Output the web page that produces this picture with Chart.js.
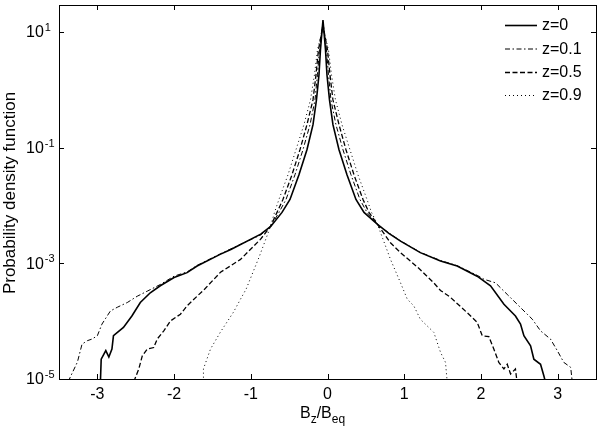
<!DOCTYPE html>
<html>
<head>
<meta charset="utf-8">
<script src="https://cdn.jsdelivr.net/npm/chart.js@4.4.1/dist/chart.umd.min.js"></script>
<style>
  html, body { margin: 0; padding: 0; background: #fff; }
  canvas { display: block; }
</style>
</head>
<body>
<canvas id="pdf" width="600" height="432"></canvas>
<script>
// Valores (B_z/B_eq, densidade de probabilidade)
const seriesLabels = ['z=0', 'z=0.1', 'z=0.5', 'z=0.9'];
const xTicks = [-3, -2, -1, 0, 1, 2, 3];
const yTicks = [1e-5, 1e-3, 1e-1, 1e1];
const yTickExp = ['-5', '-3', '-1', '1'];

// z=0
const xZ0 = [-2.96, -2.95, -2.89, -2.85, -2.81, -2.79, -2.66, -2.55, -2.44, -2.31, -2.18, -2.00, -1.83, -1.70,
  -1.40, -1.26, -0.87, -0.74, -0.593, -0.489, -0.372, -0.268, -0.189, -0.144, -0.111, -0.092, -0.059,
  -0.026, -0.007, 0.026, 0.071, 0.150, 0.254, 0.371, 0.476, 0.652, 0.80, 0.952, 1.21, 1.473, 1.69, 1.95,
  2.125, 2.30, 2.45, 2.516, 2.56, 2.647, 2.69, 2.777, 2.82, 2.84];
const yZ0 = [9e-6, 2.2e-5, 3.1e-5, 2.4e-5, 3.3e-5, 5.6e-5, 7.8e-5, 1.23e-4, 2.1e-4, 3.1e-4, 4.1e-4, 5.7e-4, 6.9e-4, 9.0e-4,
  1.43e-3, 1.74e-3, 3.2e-3, 4.35e-3, 7.6e-3, 1.27e-2, 3.4e-2, 9.2e-2, 0.25, 0.67, 1.82, 4.9, 16.1,
  4.9, 1.82, 0.67, 0.25, 9.2e-2, 3.4e-2, 1.27e-2, 7.6e-3, 4.7e-3, 3.3e-3, 2.42e-3, 1.53e-3, 1.1e-3, 9.0e-4, 6.0e-4,
  4.1e-4, 1.96e-4, 1.23e-4, 8.9e-5, 5.6e-5, 3.75e-5, 2.2e-5, 1.8e-5, 1.14e-5, 9e-6];

// z=0.1
const xZ01 = [-3.38, -3.35, -3.26, -3.20, -3.13, -3.07, -3.00, -2.94, -2.83, -2.74, -2.61, -2.48, -2.35, -2.18,
  -2.00, -1.83, -1.70, -1.40, -1.26, -0.87, -0.74, -0.632, -0.541, -0.424, -0.320, -0.228, -0.163, -0.131, -0.105,
  -0.059, -0.013, 0.013, 0.045, 0.110, 0.202, 0.306, 0.423, 0.515, 0.652, 0.80, 0.952, 1.21, 1.473, 1.69, 1.952,
  2.04, 2.19, 2.343, 2.516, 2.67, 2.777, 2.907, 2.995, 3.08, 3.17, 3.19];
const yZ01 = [9e-6, 1.1e-5, 1.96e-5, 4.0e-5, 4.6e-5, 4.9e-5, 5.6e-5, 8.9e-5, 1.5e-4, 1.74e-4, 2.1e-4, 2.7e-4, 3.3e-4, 4.3e-4,
  6.0e-4, 7.1e-4, 9.2e-4, 1.45e-3, 1.78e-3, 3.1e-3, 4.35e-3, 7.6e-3, 1.27e-2, 3.4e-2, 9.2e-2, 0.25, 0.67, 1.82, 4.9,
  14.8, 4.9, 1.82, 0.67, 0.25, 9.2e-2, 3.4e-2, 1.27e-2, 7.6e-3, 4.7e-3, 3.35e-3, 2.45e-3, 1.55e-3, 1.12e-3, 9.1e-4, 6.2e-4,
  5.3e-4, 4.6e-4, 2.9e-4, 1.72e-4, 1.08e-4, 6.8e-5, 4.9e-5, 3.1e-5, 1.94e-5, 1.59e-5, 9e-6];

// z=0.5
const xZ05 = [-2.525, -2.46, -2.415, -2.35, -2.265, -2.22, -2.134, -2.047, -1.917, -1.83, -1.70, -1.60, -1.395, -1.134,
  -0.874, -0.743, -0.658, -0.581, -0.463, -0.359, -0.268, -0.189, -0.150, -0.118, -0.059, 0.000, 0.032, 0.071,
  0.150, 0.241, 0.345, 0.463, 0.541, 0.652, 0.821, 0.952, 1.19, 1.386, 1.473, 1.60, 1.821, 1.952, 2.017, 2.103,
  2.168, 2.233, 2.30, 2.343, 2.386, 2.45, 2.47];
const yZ05 = [9e-6, 1.49e-5, 2.5e-5, 3.3e-5, 3.5e-5, 4.9e-5, 6.8e-5, 1.01e-4, 1.32e-4, 1.84e-4, 2.7e-4, 3.6e-4, 7.0e-4, 1.17e-3,
  2.6e-3, 4.35e-3, 7.6e-3, 1.27e-2, 3.4e-2, 9.2e-2, 0.25, 0.67, 1.82, 4.9, 13.2, 4.9, 1.82, 0.67,
  0.25, 9.2e-2, 3.4e-2, 1.27e-2, 7.6e-3, 4.7e-3, 2.27e-3, 1.53e-3, 8.2e-4, 4.6e-4, 3.4e-4, 2.6e-4, 1.4e-4, 9.5e-5, 5.6e-5, 5.4e-5,
  3.3e-5, 1.94e-5, 1.49e-5, 1.8e-5, 1.22e-5, 1.49e-5, 9e-6];

// z=0.9
const xZ09 = [-1.617, -1.617, -1.525, -1.395, -1.226, -1.134, -1.06, -0.89, -0.81, -0.743, -0.691, -0.633, -0.515,
  -0.411, -0.307, -0.222, -0.170, -0.131, -0.059, 0.013, 0.052, 0.104, 0.189, 0.293, 0.397, 0.515, 0.574,
  0.652, 0.821, 0.952, 1.04, 1.125, 1.21, 1.386, 1.473, 1.538, 1.56];
const yZ09 = [9e-6, 1.5e-5, 3.3e-5, 6.5e-5, 1.43e-4, 2.4e-4, 3.6e-4, 1.3e-3, 2.5e-3, 4.35e-3, 7.6e-3, 1.27e-2, 3.4e-2,
  9.2e-2, 0.25, 0.67, 1.82, 4.9, 11.7, 4.9, 1.82, 0.67, 0.25, 9.2e-2, 3.4e-2, 1.27e-2, 7.6e-3,
  4.7e-3, 1.17e-3, 4.6e-4, 2.4e-4, 1.84e-4, 1.08e-4, 6.4e-5, 2.9e-5, 1.94e-5, 9e-6];

const FONT = '"Liberation Sans", Arial, Helvetica, sans-serif';

const styles = [
  { width: 1.6, dash: [] },
  { width: 1, dash: [5, 2.5, 1.5, 2.5] },
  { width: 1.3, dash: [5, 2.5] },
  { width: 1, dash: [1, 3] }
];

const toPoints = (xs, ys) => xs.map((v, i) => ({ x: v, y: ys[i] }));
const allSeries = [[xZ0, yZ0], [xZ01, yZ01], [xZ05, yZ05], [xZ09, yZ09]];

const datasets = allSeries.map(([xs, ys], i) => ({
  label: seriesLabels[i],
  data: toPoints(xs, ys),
  borderColor: '#000',
  borderWidth: styles[i].width,
  borderDash: styles[i].dash,
  pointRadius: 0,
  tension: 0,
  fill: false
}));

// Eixos, rótulos e legenda no estilo MATLAB
const frame = {
  id: 'frame',
  afterDraw(chart) {
    const { ctx, chartArea: a, scales: { x, y } } = chart;
    ctx.save();
    ctx.strokeStyle = '#000';
    ctx.fillStyle = '#000';
    ctx.lineWidth = 1;
    ctx.setLineDash([]);
    ctx.strokeRect(a.left + 0.5, a.top + 0.5, a.right - a.left, a.bottom - a.top);

    ctx.beginPath();
    xTicks.forEach(v => {
      const px = Math.round(x.getPixelForValue(v)) + 0.5;
      ctx.moveTo(px, a.bottom); ctx.lineTo(px, a.bottom - 5);
      ctx.moveTo(px, a.top); ctx.lineTo(px, a.top + 5);
    });
    yTicks.forEach(v => {
      const py = Math.round(y.getPixelForValue(v)) + 0.5;
      ctx.moveTo(a.left, py); ctx.lineTo(a.left + 5, py);
      ctx.moveTo(a.right, py); ctx.lineTo(a.right - 5, py);
    });
    ctx.stroke();

    // rótulos do eixo x
    ctx.font = '16px ' + FONT;
    ctx.textAlign = 'center';
    ctx.textBaseline = 'middle';
    xTicks.forEach(v => ctx.fillText(String(v), x.getPixelForValue(v), 395));

    // rótulos do eixo y (10 com expoente)
    yTicks.forEach((v, i) => {
      const py = y.getPixelForValue(v);
      ctx.font = '16px ' + FONT;
      ctx.textAlign = 'left';
      ctx.textBaseline = 'middle';
      ctx.fillText('10', 26, py + 1);
      const w = ctx.measureText('10').width;
      ctx.font = '11px ' + FONT;
      ctx.textBaseline = 'alphabetic';
      ctx.fillText(yTickExp[i], 26 + w + 1, py - 1);
    });

    // título do eixo x: B_z/B_eq
    let cx = 300;
    const part = (txt, size, base) => {
      ctx.font = size + 'px ' + FONT;
      ctx.textAlign = 'left';
      ctx.textBaseline = 'alphabetic';
      ctx.fillText(txt, cx, base);
      cx += ctx.measureText(txt).width;
    };
    part('B', 16, 418);
    part('z', 12, 423);
    part('/B', 16, 418);
    part('eq', 12, 423);

    // título do eixo y
    ctx.save();
    ctx.translate(15, 193);
    ctx.rotate(-Math.PI / 2);
    ctx.font = '17px ' + FONT;
    ctx.textAlign = 'center';
    ctx.textBaseline = 'alphabetic';
    ctx.fillText('Probability density function', 0, 0);
    ctx.restore();

    // legenda
    const rows = [25, 48.5, 72, 95];
    seriesLabels.forEach((lab, i) => {
      ctx.lineWidth = styles[i].width;
      ctx.setLineDash(styles[i].dash);
      ctx.beginPath();
      ctx.moveTo(505, rows[i] + 0.5);
      ctx.lineTo(537, rows[i] + 0.5);
      ctx.stroke();
      ctx.setLineDash([]);
      ctx.font = '16px ' + FONT;
      ctx.textAlign = 'left';
      ctx.textBaseline = 'middle';
      ctx.fillText(lab, 542, rows[i] + 1);
    });
    ctx.restore();
  }
};

new Chart(document.getElementById('pdf'), {
  type: 'line',
  data: { datasets },
  options: {
    responsive: false,
    animation: false,
    events: [],
    layout: { padding: { left: 59, right: 4, top: 5, bottom: 53 } },
    plugins: { legend: { display: false }, tooltip: { enabled: false } },
    scales: {
      x: { type: 'linear', min: -3.5, max: 3.5, display: false },
      y: { type: 'logarithmic', min: 1e-5, max: 29.3, display: false }
    }
  },
  plugins: [frame]
});
</script>
</body>
</html>
